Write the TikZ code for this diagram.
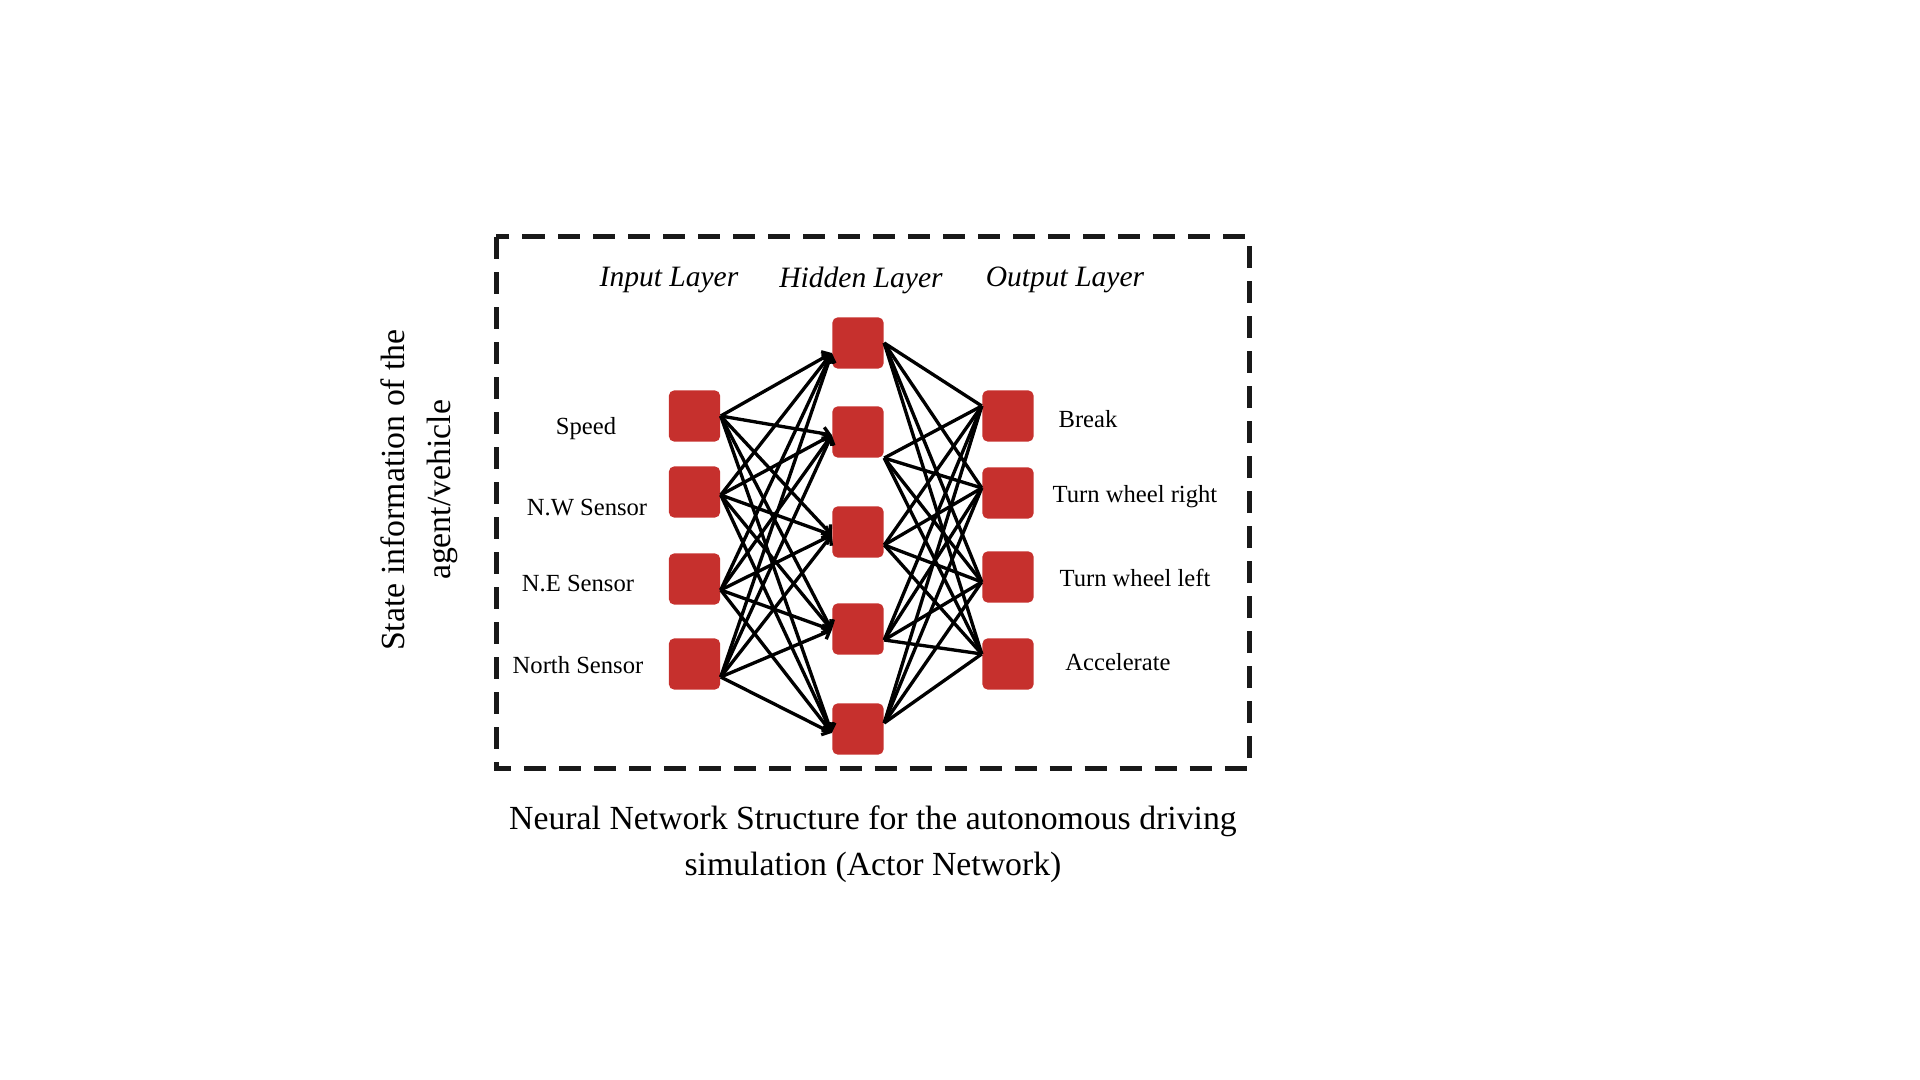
\documentclass[tikz,border=0pt]{standalone}
\usepackage{fontspec}
\setmainfont{Liberation Serif}
\usetikzlibrary{arrows.meta}
\definecolor{nnred}{HTML}{C6302D}
\tikzset{
  neuron/.style={fill=nnred, draw=none, rounded corners=0.05cm, minimum size=0.51cm, inner sep=0pt},
  conn/.style={line width=0.95pt, black},
  connarrow/.style={conn, -{Straight Barb[length=1.8pt,width=3.6pt]}},
  lbl/.style={font=\fontsize{7}{8.4}\selectfont, inner sep=0pt},
  hdr/.style={font=\fontsize{8.4}{10}\selectfont\itshape, inner sep=0pt},
  big/.style={font=\fontsize{9.6}{13.2}\selectfont, inner sep=0pt, align=center},
  frame/.style={line width=0.05cm, draw=black!90, dash pattern=on 0.22cm off 0.13cm}
}
\begin{document}
\begin{tikzpicture}[x=0.01cm, y=-0.01cm]
\useasboundingbox (0,0) rectangle (1920,1080);
% frame
\draw[frame] (496,237) rectangle (1249,769);
% headers
\node[hdr] (hin) at (669,280) {Input Layer};
\node[hdr] (hhid) at (861,280) {Hidden Layer};
\node[hdr] (hout) at (1065,280) {Output Layer};
% input neurons
\node[neuron] (i1) at (694.5,416) {};
\node[neuron] (i2) at (694.5,492) {};
\node[neuron] (i3) at (694.5,579) {};
\node[neuron] (i4) at (694.5,664) {};
% hidden neurons
\node[neuron] (h1) at (858,343) {};
\node[neuron] (h2) at (858,432) {};
\node[neuron] (h3) at (858,532) {};
\node[neuron] (h4) at (858,629) {};
\node[neuron] (h5) at (858,729) {};
% output neurons
\node[neuron] (o1) at (1008,416) {};
\node[neuron] (o2) at (1008,493) {};
\node[neuron] (o3) at (1008,577) {};
\node[neuron] (o4) at (1008,664) {};
% input labels
\node[lbl] (lsp) at (586,429) {Speed};
\node[lbl] (lnw) at (587,508) {N.W Sensor};
\node[lbl] (lne) at (578,584) {N.E Sensor};
\node[lbl] (lno) at (578,665) {North Sensor};
% output labels
\node[lbl] (lbr) at (1088,419) {Break};
\node[lbl] (ltr) at (1135,497) {Turn wheel right};
\node[lbl] (ltl) at (1135,578) {Turn wheel left};
\node[lbl] (lac) at (1118,662) {Accelerate};
% side label and caption
\node[big, rotate=90] (side) at (419,490) {State information of the\\agent/vehicle};
\node[big] (cap) at (873,844) {Neural Network Structure for the autonomous driving\\simulation (Actor Network)};
% input -> hidden connections
\foreach \i/\si in {1/0, 2/-0.03, 3/-0.11, 4/-0.13}{
  \foreach \h/\sh in {1/-0.1, 2/-0.03, 3/-0.03, 4/-0.01, 5/-0.04}{
    \draw[connarrow] ([yshift=\si cm]i\i.east) -- ([yshift=\sh cm]h\h.west);
  }
}
% hidden -> output connections
\foreach \h/\sh in {1/0, 2/-0.26, 3/-0.13, 4/-0.11, 5/0.06}{
  \foreach \o/\so in {1/0.1, 2/0.05, 3/-0.05, 4/0.1}{
    \draw[conn] ([yshift=\sh cm]h\h.east) -- ([yshift=\so cm]o\o.west);
  }
}
\end{tikzpicture}
\end{document}
